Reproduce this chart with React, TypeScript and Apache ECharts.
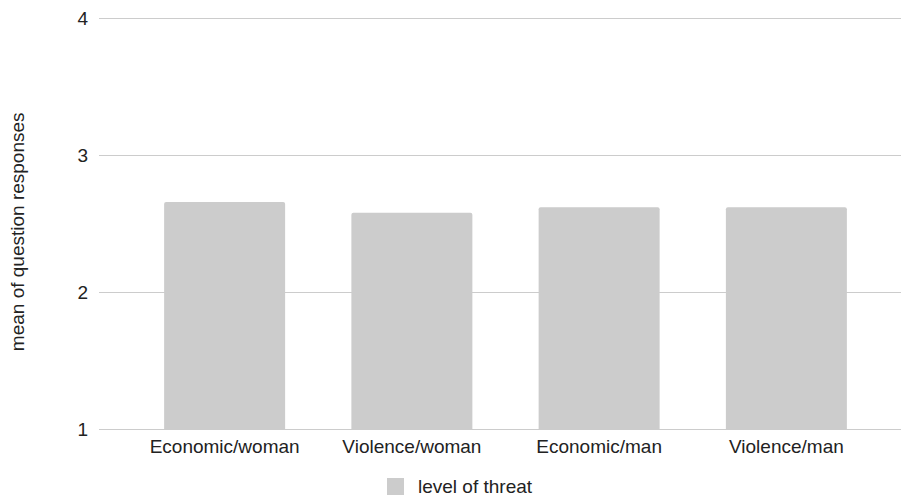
import React, { useEffect, useRef } from "react";
import * as echarts from "echarts";

const categories = ["Economic/woman", "Violence/woman", "Economic/man", "Violence/man"];
const threatValues = [2.66, 2.58, 2.62, 2.62];
const seriesName = "level of threat";
const yAxisName = "mean of question responses";
const yMin = 1;
const yMax = 4;
const yInterval = 1;

const FONT = "'Liberation Sans', Arial, sans-serif";

export default function App() {
  const ref = useRef<HTMLDivElement>(null);
  useEffect(() => {
    if (!ref.current) return;
    const chart = echarts.init(ref.current, undefined, { renderer: "svg" });
    chart.setOption({
      animation: false,
      textStyle: { fontFamily: FONT },
      grid: [
        { left: 99, width: 802, top: 18.3, height: 411, containLabel: false },
        { left: 131, width: 749, top: 18.3, height: 411, containLabel: false },
      ],
      legend: {
        data: [seriesName],
        left: 387,
        top: 477,
        padding: 0,
        icon: "rect",
        itemWidth: 17,
        itemHeight: 17,
        textStyle: { fontSize: 19, color: "#222", fontFamily: FONT, padding: [0, 0, 0, 9] },
      },
      xAxis: [
        {
          type: "category",
          gridIndex: 0,
          data: categories,
          show: false,
        },
        {
          type: "category",
          gridIndex: 1,
          data: categories,
          axisLine: { show: false },
          axisTick: { show: false },
          axisLabel: { fontSize: 19, color: "#222", margin: 8, fontFamily: FONT, interval: 0 },
        },
      ],
      yAxis: [
        {
          type: "value",
          gridIndex: 0,
          min: yMin,
          max: yMax,
          interval: yInterval,
          name: yAxisName,
          nameLocation: "middle",
          nameGap: 72,
          nameTextStyle: { fontSize: 19, color: "#222", fontFamily: FONT, padding: [0, 16, 0, 0] },
          axisLine: { show: false },
          axisTick: { show: false },
          axisLabel: { fontSize: 19, color: "#222", margin: 11, fontFamily: FONT },
          splitLine: { show: true, lineStyle: { color: "#cccccc", width: 1 } },
        },
        {
          type: "value",
          gridIndex: 1,
          min: yMin,
          max: yMax,
          interval: yInterval,
          show: false,
          splitLine: { show: false },
        },
      ],
      series: [
        {
          name: seriesName,
          type: "bar",
          xAxisIndex: 1,
          yAxisIndex: 1,
          data: threatValues,
          barWidth: 121,
          itemStyle: { color: "#cccccc", borderRadius: [2, 2, 0, 0] },
        },
      ],
    });
    return () => chart.dispose();
  }, []);
  return (
    <div
      ref={ref}
      style={{ position: "fixed", left: 0, top: 0, width: 902, height: 498, background: "#fff" }}
    />
  );
}
